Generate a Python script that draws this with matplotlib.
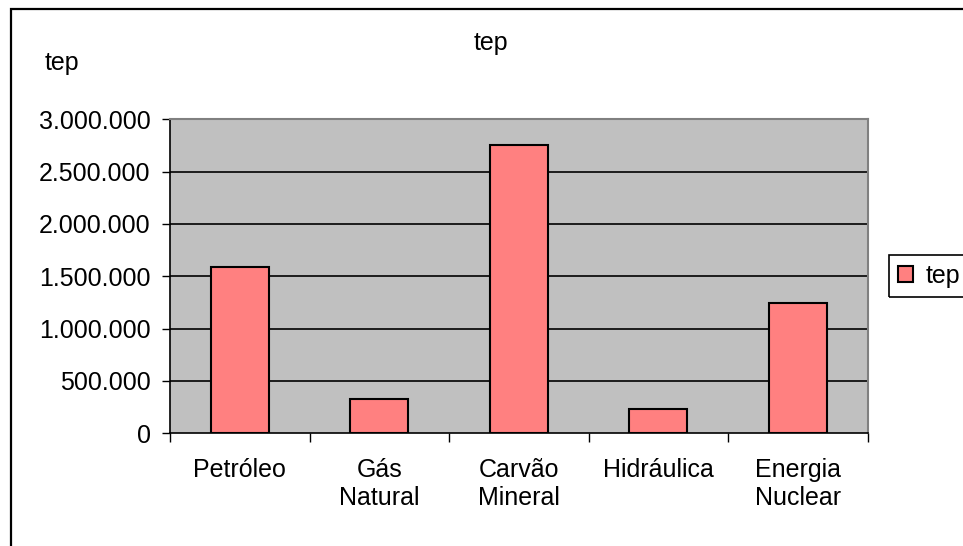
import matplotlib
matplotlib.use('Agg')
import matplotlib.pyplot as plt
import matplotlib.ticker as ticker
import matplotlib.patches as patches
import numpy as np

categories = ['Petróleo', 'Gás\nNatural', 'Carvão\nMineral', 'Hidráulica', 'Energia\nNuclear']
values = [1586000, 325000, 2752000, 229000, 1242000]
yticks = [0, 500000, 1000000, 1500000, 2000000, 2500000, 3000000]

plt.rcParams['font.family'] = ['Liberation Sans', 'DejaVu Sans']

fig = plt.figure(figsize=(9.63, 5.46), dpi=100)
ax = fig.add_axes([170/963, 1 - 433.3/546, (867.7 - 170)/963, (433.3 - 119.3)/546])

x = np.arange(len(categories))
bars = ax.bar(x, values, width=0.415, color='#FF8080', edgecolor='black', linewidth=1.5,
              label='tep', zorder=3)

ax.set_facecolor('#C0C0C0')
ax.set_xlim(-0.5, len(categories) - 0.5)
ax.set_ylim(0, 3000000)
ax.set_yticks(yticks)
ax.yaxis.set_major_formatter(ticker.FuncFormatter(lambda v, p: f'{int(v):,}'.replace(',', '.')))
for v in yticks[1:-1]:
    ax.axhline(v, color='black', linewidth=1.2, zorder=1)

# category labels at centres, tick marks at boundaries
ax.set_xticks(np.arange(-0.5, len(categories)), minor=False)
ax.set_xticklabels([])
ax.set_xticks(x, minor=True)
ax.set_xticklabels(categories, minor=True, fontsize=18)
ax.tick_params(axis='x', which='minor', length=0, pad=18)
ax.tick_params(axis='x', which='major', length=6.5, width=1, color='black')
ax.tick_params(axis='y', length=6, width=1, labelsize=18, pad=8)

for side in ['top', 'right']:
    ax.spines[side].set_color('#808080')
    ax.spines[side].set_linewidth(1.5)
for side in ['left', 'bottom']:
    ax.spines[side].set_color('black')
    ax.spines[side].set_linewidth(1.2)

fig.text(491/963, 1 - 43/546, 'tep', ha='center', va='center', fontsize=18)
fig.text(62/963, 1 - 63/546, 'tep', ha='center', va='center', fontsize=18)

# legend without its own frame; the box runs off the right edge as in the reference
leg = fig.legend(handles=[bars], labels=['tep'], loc='center left',
                 bbox_to_anchor=(892/963, 1 - 276/546), fontsize=18,
                 frameon=False, handlelength=0.6, handleheight=0.6,
                 handletextpad=0.5, borderpad=0.25, borderaxespad=0)
legbox = patches.Rectangle((889/963, 1 - 297/546), 0.2, 42/546, transform=fig.transFigure,
                           fill=False, edgecolor='black', linewidth=1.2)
fig.patches.append(legbox)

frame = patches.Rectangle((11/963, -0.1), 1.2, 1.1 - 9/546, transform=fig.transFigure,
                          fill=False, edgecolor='black', linewidth=1.6)
fig.patches.append(frame)

fig.savefig('out.png', dpi=100, facecolor='white')
